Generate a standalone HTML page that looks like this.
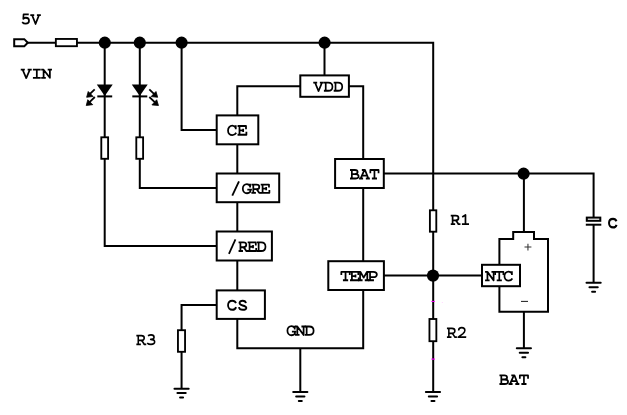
<!DOCTYPE html>
<html>
<head>
<meta charset="utf-8">
<title>Charger circuit</title>
<style>
html,body{margin:0;padding:0;background:#fff;}
body{width:627px;height:415px;overflow:hidden;}
svg{display:block;}
.w{stroke:#000;stroke-width:2.0;fill:none;stroke-linecap:butt;stroke-linejoin:miter;}
.b{stroke:#000;stroke-width:2.0;fill:#fff;}
.r{stroke-width:1.85;}
.d{fill:#000;stroke:none;}
.t{stroke:#000;stroke-width:1.75;fill:none;stroke-linecap:butt;stroke-linejoin:round;}
.s{font-family:"Liberation Sans",sans-serif;font-weight:normal;fill:#000;stroke:#000;stroke-width:0.55;}
.g{stroke:#333;stroke-width:1.05;fill:none;}
</style>
</head>
<body>
<svg width="627" height="415" viewBox="0 0 627 415">
<rect x="0" y="0" width="627" height="415" fill="#fff"/>

<g style="">
<!-- wires -->
<g class="w">
<path d="M27 42.7H433.2V392.1"/>
<path d="M104.7 42.6V245.9H217"/>
<path d="M139.8 42.6V188H217"/>
<path d="M181.6 42.6V129.9H217"/>
<path d="M324.5 42.6V76"/>
<path d="M301 86.2H237.3V348.2H363.2V86.2H348"/>
<path d="M300.3 348.1V392.1"/>
<path d="M217 304.9H181.57V388.6"/>
<path d="M383 173.6H593.6V282.9"/>
<path d="M523.9 173.6V232"/>
<path d="M523.9 311V348.3"/>
<path d="M383 275.6H482"/>
</g>

<!-- grounds -->
<g class="w" style="stroke-width:2;stroke-linecap:round">
<path d="M174.47 388.64H188.67M177.42 393.09H185.72M180.07 397.49H183.07"/>
<path d="M293.20 392.10H307.40M296.15 396.55H304.45M298.80 400.95H301.80"/>
<path d="M425.86 392.10H440.06M428.81 396.55H437.11M431.46 400.95H434.46"/>
<path d="M516.78 348.33H530.98M519.73 352.78H528.03M522.38 357.18H525.38"/>
<path d="M586.50 282.87H600.70M589.45 287.32H597.75M592.10 291.72H595.10"/>
</g>

<!-- port + resistors -->
<path class="b" d="M14.2 39.15H24.3L27.8 42.7L24.3 46.25H14.2Z"/>
<rect class="b r" x="55.85" y="38.95" width="21.1" height="7.25"/>
<rect class="b r" x="101.3" y="137.3" width="6.8" height="21.5"/>
<rect class="b r" x="136.3" y="137.3" width="6.8" height="21.5"/>
<rect class="b r" x="429.9" y="210.3" width="6.4" height="21.4"/>
<rect class="b r" x="429.45" y="319.0" width="6.9" height="22.2"/>
<rect class="b r" x="177.95" y="330.2" width="7.1" height="21.6"/>

<!-- capacitor -->
<rect x="590" y="217.6" width="7" height="7.1" fill="#fff"/>
<rect class="b" x="586.8" y="217.6" width="13.5" height="3.2" style="stroke-width:2"/>
<path class="w" d="M585.8 224.7H601.3" style="stroke-width:2"/>

<!-- LEDs -->
<path class="d" d="M96.8 84.6H112.7L104.75 96Z"/>
<path class="w" d="M97.3 96.4H112.2" style="stroke-width:2"/>
<path class="d" d="M131.8 84.6H147.7L139.75 96Z"/>
<path class="w" d="M132.3 96.4H147.3" style="stroke-width:2"/>
<g class="w" style="stroke-width:1.8">
<path d="M94.70 89.30L89.97 93.97"/>
<path d="M94.80 97.00L89.57 102.17"/>
<path d="M149.30 89.30L154.27 94.04"/>
<path d="M149.30 97.00L155.01 102.30"/>
</g>
<path class="d" style="stroke:#000;stroke-width:0.8;stroke-linejoin:miter" d="M86.63 97.28L93.14 96.47L88.22 91.49Z"/>
<path class="d" style="stroke:#000;stroke-width:0.8;stroke-linejoin:miter" d="M86.23 105.48L92.74 104.67L87.81 99.69Z"/>
<path class="d" style="stroke:#000;stroke-width:0.8;stroke-linejoin:miter" d="M157.67 97.29L155.98 91.53L151.14 96.59Z"/>
<path class="d" style="stroke:#000;stroke-width:0.8;stroke-linejoin:miter" d="M158.46 105.49L156.69 99.76L151.93 104.89Z"/>

<!-- dots -->
<circle class="d" cx="104.8" cy="42.7" r="6.1"/>
<circle class="d" cx="139.8" cy="42.7" r="6.1"/>
<circle class="d" cx="181.6" cy="42.7" r="6.1"/>
<circle class="d" cx="324.6" cy="42.7" r="6.1"/>
<circle class="d" cx="523.6" cy="173.7" r="6.1"/>
<circle class="d" cx="433" cy="275.6" r="6.1"/>

<!-- battery -->
<path class="b" d="M513.2 232H534V239.1H548V311.8H499.4V239.1H513.2Z"/>
<path class="g" d="M524.5 247.05H531.4M527.95 243.7V250.4"/>
<path class="g" d="M521 301.4H528" style="stroke:#222"/>

<!-- IC boxes -->
<rect class="b" x="216.7" y="115.4" width="41.6" height="28.9"/>
<rect class="b" x="216.7" y="173.5" width="62.5" height="28.7"/>
<rect class="b" x="216.7" y="231.5" width="55.2" height="29"/>
<rect class="b" x="216.7" y="290.4" width="48.2" height="28.5"/>
<rect class="b" x="300.3" y="75.4" width="48.6" height="21.4"/>
<rect class="b" x="335.1" y="159" width="48.7" height="29"/>
<rect class="b" x="328.3" y="261.2" width="55.6" height="28.8"/>
<rect class="b" x="482" y="264.8" width="38" height="21.4"/>

</g>
<!-- text -->
<g class="t">
<g transform="translate(20.89 24.54) scale(0.959 1.070)"><title>5V</title><path d="M8.2 -9.55H2.8L2.5 -5.3C3.4 -6 4.3 -6.3 5.2 -6.3C7.1 -6.3 8.5 -5.1 8.5 -3.5C8.5 -1.8 7.1 -0.8 5 -0.8C3.5 -0.8 2.3 -1.3 1.3 -2.3"/><path transform="translate(10.20 0)" d="M-0.4 -8.85H3.7M6.5 -8.85H10.6M1.5 -8.85L5.1 -0.55L8.7 -8.85"/></g>
<g transform="translate(21.14 78.61) scale(0.998 1.003)"><title>VIN</title><path d="M-0.4 -8.85H3.7M6.5 -8.85H10.6M1.5 -8.85L5.1 -0.55L8.7 -8.85"/><path transform="translate(10.20 0)" d="M1.6 -8.85H9.4M1.6 -0.85H9.4M5.5 -8.85V-0.85"/><path transform="translate(20.40 0)" d="M-0.3 -8.85H2.3M-0.3 -0.85H4.3M6.2 -8.85H10.5M2.1 -0.85V-8.85L8.4 -0.85V-8.85"/></g>
<g transform="translate(313.63 91.60) scale(0.960 1.019)"><title>VDD</title><path d="M-0.4 -8.85H3.7M6.5 -8.85H10.6M1.5 -8.85L5.1 -0.55L8.7 -8.85"/><path transform="translate(10.20 0)" d="M0.5 -8.85H4.9C7.9 -8.85 9.4 -7.1 9.4 -4.85C9.4 -2.6 7.9 -0.85 4.9 -0.85H0.5M2.4 -8.85V-0.85"/><path transform="translate(20.40 0)" d="M0.5 -8.85H4.9C7.9 -8.85 9.4 -7.1 9.4 -4.85C9.4 -2.6 7.9 -0.85 4.9 -0.85H0.5M2.4 -8.85V-0.85"/></g>
<g transform="translate(226.71 135.65) scale(1.015 1.085)"><title>CE</title><path d="M8.9 -5.9V-9.6M8.9 -7.3C8.1 -8.6 6.9 -9.2 5.5 -9.2C3 -9.2 1.3 -7.3 1.3 -4.85C1.3 -2.4 3 -0.5 5.6 -0.5C7.2 -0.5 8.5 -1.2 9.4 -2.6"/><path transform="translate(10.20 0)" d="M0.5 -8.85H8.8V-6M2.4 -8.85V-0.85M2.4 -4.9H6M6 -6.4V-3.4M0.5 -0.85H9.2V-3.6"/></g>
<g transform="translate(229.54 194.07) scale(1.195 1.044)" stroke-width="1.5"><title>/</title><path d="M2.3 1.5L7.9 -12.2"/></g>
<g transform="translate(241.61 193.76) scale(0.999 1.042)"><title>GRE</title><path d="M8.5 -5.9V-9.6M8.5 -7.3C7.7 -8.6 6.6 -9.2 5.3 -9.2C2.9 -9.2 1.2 -7.3 1.2 -4.85C1.2 -2.4 2.9 -0.5 5.4 -0.5C6.7 -0.5 7.8 -1 8.7 -1.8V-4M5.7 -4H10.3"/><path transform="translate(9.30 0)" d="M0.5 -8.85H5.5C7.5 -8.85 8.4 -7.9 8.4 -6.6C8.4 -5.3 7.4 -4.4 5.5 -4.4H2.4M2.4 -8.85V-0.85M0.5 -0.85H5M5.3 -4.4C6.6 -4 7.2 -2.6 8.3 -0.85H10.4"/><path transform="translate(18.60 0)" d="M0.5 -8.85H8.8V-6M2.4 -8.85V-0.85M2.4 -4.9H6M6 -6.4V-3.4M0.5 -0.85H9.2V-3.6"/></g>
<g transform="translate(226.26 252.32) scale(1.162 1.065)" stroke-width="1.5"><title>/</title><path d="M2.3 1.5L7.9 -12.2"/></g>
<g transform="translate(238.08 251.99) scale(0.979 1.082)"><title>RED</title><path d="M0.5 -8.85H5.5C7.5 -8.85 8.4 -7.9 8.4 -6.6C8.4 -5.3 7.4 -4.4 5.5 -4.4H2.4M2.4 -8.85V-0.85M0.5 -0.85H5M5.3 -4.4C6.6 -4 7.2 -2.6 8.3 -0.85H10.4"/><path transform="translate(9.30 0)" d="M0.5 -8.85H8.8V-6M2.4 -8.85V-0.85M2.4 -4.9H6M6 -6.4V-3.4M0.5 -0.85H9.2V-3.6"/><path transform="translate(18.60 0)" d="M0.5 -8.85H4.9C7.9 -8.85 9.4 -7.1 9.4 -4.85C9.4 -2.6 7.9 -0.85 4.9 -0.85H0.5M2.4 -8.85V-0.85"/></g>
<g transform="translate(349.51 179.46) scale(0.978 1.070)"><title>BAT</title><path d="M0.5 -8.85H5.5C7.4 -8.85 8.3 -8 8.3 -6.9C8.3 -5.7 7.3 -5 5.5 -5H2.4M5.5 -5C7.9 -5 9.3 -4.2 9.3 -2.9C9.3 -1.6 8 -0.85 5.9 -0.85H0.5M2.4 -8.85V-0.85"/><path transform="translate(10.20 0)" d="M2.4 -8.85H5.6L9.1 -0.85M5 -8.85L1.1 -0.85M2.9 -3.6H7.3M-0.4 -0.85H3.7M6.5 -0.85H10.6"/><path transform="translate(20.40 0)" d="M0.9 -5.8V-8.85H9.3V-5.8M5.1 -8.85V-0.85M2.5 -0.85H7.7"/></g>
<g transform="translate(340.43 281.18) scale(1.002 1.047)"><title>TEMP</title><path d="M0.9 -5.8V-8.85H9.3V-5.8M5.1 -8.85V-0.85M2.5 -0.85H7.7"/><path transform="translate(9.05 0)" d="M0.5 -8.85H8.8V-6M2.4 -8.85V-0.85M2.4 -4.9H6M6 -6.4V-3.4M0.5 -0.85H9.2V-3.6"/><path transform="translate(18.10 0)" d="M-0.5 -8.85H1.9L5.1 -3.4L8.3 -8.85H10.7M1.5 -8.85V-0.85M8.7 -8.85V-0.85M-0.5 -0.85H4M6.2 -0.85H10.7"/><path transform="translate(27.15 0)" d="M0.5 -8.85H5.7C7.9 -8.85 9.2 -7.9 9.2 -6.3C9.2 -4.7 7.9 -3.8 5.7 -3.8H2.4M2.4 -8.85V-0.85M0.5 -0.85H6.3"/></g>
<g transform="translate(286.23 335.81) scale(0.996 1.051)"><title>GND</title><path d="M8.5 -5.9V-9.6M8.5 -7.3C7.7 -8.6 6.6 -9.2 5.3 -9.2C2.9 -9.2 1.2 -7.3 1.2 -4.85C1.2 -2.4 2.9 -0.5 5.4 -0.5C6.7 -0.5 7.8 -1 8.7 -1.8V-4M5.7 -4H10.3"/><path transform="translate(9.05 0)" d="M-0.3 -8.85H2.3M-0.3 -0.85H4.3M6.2 -8.85H10.5M2.1 -0.85V-8.85L8.4 -0.85V-8.85"/><path transform="translate(18.10 0)" d="M0.5 -8.85H4.9C7.9 -8.85 9.4 -7.1 9.4 -4.85C9.4 -2.6 7.9 -0.85 4.9 -0.85H0.5M2.4 -8.85V-0.85"/></g>
<g transform="translate(450.25 225.05) scale(0.982 1.057)"><title>R1</title><path d="M0.5 -8.85H5.5C7.5 -8.85 8.4 -7.9 8.4 -6.6C8.4 -5.3 7.4 -4.4 5.5 -4.4H2.4M2.4 -8.85V-0.85M0.5 -0.85H5M5.3 -4.4C6.6 -4 7.2 -2.6 8.3 -0.85H10.4"/><path transform="translate(10.20 0)" d="M5.3 -0.85V-9.55L2 -7.6M1.7 -0.85H8.9"/></g>
<g transform="translate(446.43 338.09) scale(1.008 1.090)" stroke-width="1.55"><title>R2</title><path d="M0.5 -8.85H5.5C7.5 -8.85 8.4 -7.9 8.4 -6.6C8.4 -5.3 7.4 -4.4 5.5 -4.4H2.4M2.4 -8.85V-0.85M0.5 -0.85H5M5.3 -4.4C6.6 -4 7.2 -2.6 8.3 -0.85H10.4"/><path transform="translate(10.20 0)" d="M1.9 -7C1.9 -8.6 3.3 -9.55 5 -9.55C6.8 -9.55 8.1 -8.5 8.1 -7C8.1 -5.8 7.3 -5 6 -3.9L1.5 -0.85H8.7V-1.6"/></g>
<g transform="translate(135.85 345.24) scale(1.001 1.094)" stroke-width="1.55"><title>R3</title><path d="M0.5 -8.85H5.5C7.5 -8.85 8.4 -7.9 8.4 -6.6C8.4 -5.3 7.4 -4.4 5.5 -4.4H2.4M2.4 -8.85V-0.85M0.5 -0.85H5M5.3 -4.4C6.6 -4 7.2 -2.6 8.3 -0.85H10.4"/><path transform="translate(10.20 0)" d="M1.9 -8.6C2.9 -9.2 3.9 -9.55 5 -9.55C6.8 -9.55 8 -8.7 8 -7.4C8 -6.1 6.8 -5.4 4.6 -5.4C7 -5.4 8.6 -4.5 8.6 -3.1C8.6 -1.6 7 -0.8 4.9 -0.8C3.4 -0.8 2.1 -1.2 1.1 -2"/></g>
<g transform="translate(485.37 281.20) scale(0.983 1.049)"><title>NTC</title><path d="M-0.3 -8.85H2.3M-0.3 -0.85H4.3M6.2 -8.85H10.5M2.1 -0.85V-8.85L8.4 -0.85V-8.85"/><path transform="translate(9.05 0)" d="M0.9 -5.8V-8.85H9.3V-5.8M5.1 -8.85V-0.85M2.5 -0.85H7.7"/><path transform="translate(18.10 0)" d="M8.9 -5.9V-9.6M8.9 -7.3C8.1 -8.6 6.9 -9.2 5.5 -9.2C3 -9.2 1.3 -7.3 1.3 -4.85C1.3 -2.4 3 -0.5 5.6 -0.5C7.2 -0.5 8.5 -1.2 9.4 -2.6"/></g>
<g transform="translate(498.97 384.94) scale(0.979 1.075)"><title>BAT</title><path d="M0.5 -8.85H5.5C7.4 -8.85 8.3 -8 8.3 -6.9C8.3 -5.7 7.3 -5 5.5 -5H2.4M5.5 -5C7.9 -5 9.3 -4.2 9.3 -2.9C9.3 -1.6 8 -0.85 5.9 -0.85H0.5M2.4 -8.85V-0.85"/><path transform="translate(10.20 0)" d="M2.4 -8.85H5.6L9.1 -0.85M5 -8.85L1.1 -0.85M2.9 -3.6H7.3M-0.4 -0.85H3.7M6.5 -0.85H10.6"/><path transform="translate(20.40 0)" d="M0.9 -5.8V-8.85H9.3V-5.8M5.1 -8.85V-0.85M2.5 -0.85H7.7"/></g>
<g transform="translate(226.94 310.86) scale(1.006 1.123)" stroke-width="1.8"><title>CS</title><path d="M9.1 -3.4C8.5 -1.7 7.1 -0.9 5.4 -0.9C2.8 -0.9 1.1 -2.6 1.1 -5C1.1 -7.4 2.8 -9.1 5.4 -9.1C7.1 -9.1 8.4 -8.3 9 -6.8"/><path transform="translate(10.60 0)" d="M8.3 -6.9C8.1 -8.3 6.8 -9.1 5 -9.1C3.2 -9.1 1.9 -8.2 1.9 -6.9C1.9 -5.7 2.8 -5.3 5 -4.8C7.4 -4.3 8.7 -3.8 8.7 -2.6C8.7 -1.5 7.3 -0.9 5.2 -0.9C3 -0.9 1.6 -1.7 1.3 -3.3"/></g>
<g transform="translate(607.99 228.37) scale(0.944 1.051)" stroke-width="2.1"><title>C</title><path d="M9.1 -3.4C8.5 -1.7 7.1 -0.9 5.4 -0.9C2.8 -0.9 1.1 -2.6 1.1 -5C1.1 -7.4 2.8 -9.1 5.4 -9.1C7.1 -9.1 8.4 -8.3 9 -6.8"/></g>
</g>
<g style="">
<!-- stray marks -->
<rect x="431.3" y="300.9" width="3.6" height="1" fill="#f0f"/>
<rect x="441.8" y="302" width="1" height="1" fill="#ffd8ff"/>
<rect x="431.4" y="358.5" width="3.5" height="1.2" fill="#f0f"/>
</g>
</svg>
</body>
</html>
